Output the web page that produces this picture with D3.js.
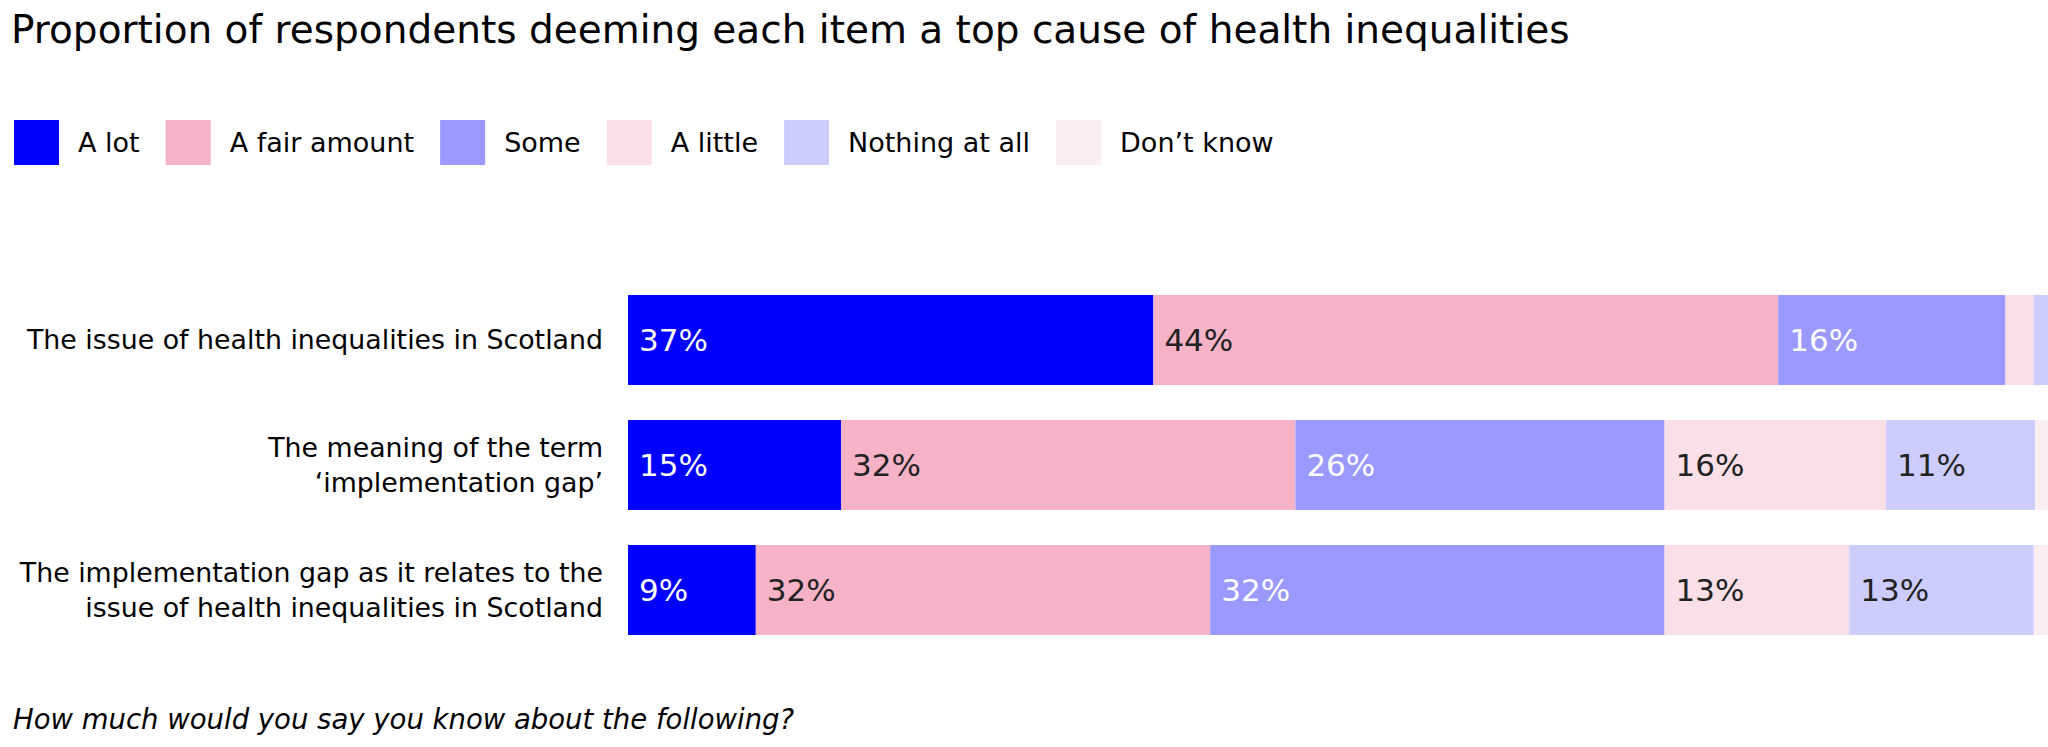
<!DOCTYPE html>
<html>
<head>
<meta charset="utf-8">
<script src="https://cdn.jsdelivr.net/npm/d3@7/dist/d3.min.js"></script>
<style>
  body { margin: 0; background: #fff; }
  text { font-family: "Century Gothic", "DejaVu Sans", sans-serif; }
</style>
</head>
<body>
<svg id="chart"></svg>
<script>
// data
const categories = [
  "The issue of health inequalities in Scotland",
  "The meaning of the term ‘implementation gap’",
  "The implementation gap as it relates to the issue of health inequalities in Scotland"
];
const categoryLines = [
  ["The issue of health inequalities in Scotland"],
  ["The meaning of the term", "‘implementation gap’"],
  ["The implementation gap as it relates to the", "issue of health inequalities in Scotland"]
];
const keys = ["A lot", "A fair amount", "Some", "A little", "Nothing at all", "Don’t know"];
const aLot         = [37, 15, 9];
const fairAmount   = [44, 32, 32];
const some         = [16, 26, 32];
const aLittle      = [2, 15.6, 13];
const nothingAtAll = [1, 10.5, 13];
const dontKnow     = [0, 0.9, 1];
const colors = ["#0000ff", "#f6b3c8", "#9999ff", "#fadfe8", "#ccccff", "#fcedf2"];
const whiteLabel = ["A lot", "Some"];

const title = "Proportion of respondents deeming each item a top cause of health inequalities";
const footnote = "How much would you say you know about the following?";

const width = 2048, height = 747;
const margin = {top: 277.5, right: 0, bottom: 94.5, left: 628};

const svg = d3.select("#chart")
  .attr("width", width)
  .attr("height", height);

// build rows for the stack
const rows = categories.map(function(c, i) {
  return {
    category: c,
    "A lot": aLot[i],
    "A fair amount": fairAmount[i],
    "Some": some[i],
    "A little": aLittle[i],
    "Nothing at all": nothingAtAll[i],
    "Don’t know": dontKnow[i]
  };
});

const stacked = d3.stack().keys(keys)(rows);

const x = d3.scaleLinear()
  .domain([0, 100])
  .range([margin.left, width - margin.right]);

const y = d3.scaleBand()
  .domain(categories)
  .range([margin.top, height - margin.bottom])
  .paddingInner(0.28)
  .paddingOuter(0.14);

const color = d3.scaleOrdinal().domain(keys).range(colors);

// title
svg.append("text")
  .attr("x", 11)
  .attr("y", 43)
  .style("font-size", "39px")
  .style("fill", "#000")
  .text(title);

// legend
const legend = svg.append("g").attr("class", "legend");
let lx = 14;
keys.forEach(function(k) {
  const g = legend.append("g").attr("transform", `translate(${lx}, 120)`);
  g.append("rect")
    .attr("width", 45)
    .attr("height", 45)
    .attr("fill", color(k));
  const t = g.append("text")
    .attr("x", 64)
    .attr("y", 23)
    .attr("dy", "0.35em")
    .style("font-size", "27px")
    .style("fill", "#000")
    .text(k);
  lx += 64 + t.node().getComputedTextLength() + 26;
});

// bars
const layer = svg.selectAll(".layer")
  .data(stacked)
  .join("g")
  .attr("class", "layer")
  .attr("fill", function(d) { return color(d.key); });

layer.selectAll("rect")
  .data(function(d) { return d; })
  .join("rect")
  .attr("x", function(d) { return x(d[0]); })
  .attr("y", function(d) { return y(d.data.category); })
  .attr("width", function(d) { return x(d[1]) - x(d[0]); })
  .attr("height", y.bandwidth());

// value labels
const fmt = d3.format(".0f");
layer.selectAll("text")
  .data(function(d) { return d.map(function(v) { v.key = d.key; return v; }); })
  .join("text")
  .filter(function(d) { return d[1] - d[0] >= 5; })
  .attr("x", function(d) { return x(d[0]) + 11; })
  .attr("y", function(d) { return y(d.data.category) + y.bandwidth() / 2; })
  .attr("dy", "0.36em")
  .style("font-size", "31px")
  .style("fill", function(d) { return whiteLabel.includes(d.key) ? "#fff" : "#222"; })
  .text(function(d) { return fmt(d[1] - d[0]) + "%"; });

// category labels
const cat = svg.append("g").attr("class", "categories");
categories.forEach(function(c, i) {
  const lines = categoryLines[i];
  const cy = y(c) + y.bandwidth() / 2;
  const lh = 35;
  const t = cat.append("text")
    .attr("text-anchor", "end")
    .style("font-size", "26.8px")
    .style("fill", "#000");
  lines.forEach(function(line, j) {
    t.append("tspan")
      .attr("x", 603)
      .attr("y", cy + (j - (lines.length - 1) / 2) * lh)
      .attr("dy", "0.35em")
      .text(line);
  });
});

// footnote
svg.append("text")
  .attr("x", 13)
  .attr("y", 729)
  .style("font-size", "27.5px")
  .style("font-style", "italic")
  .style("fill", "#000")
  .text(footnote);
</script>
</body>
</html>
